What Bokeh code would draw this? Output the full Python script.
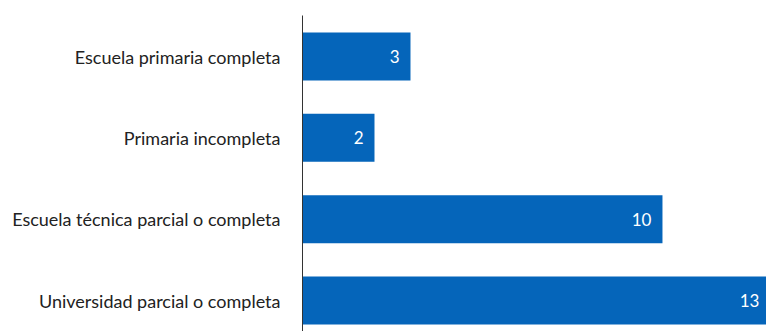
from bokeh.plotting import figure
from bokeh.models import ColumnDataSource, Range1d, FixedTicker, LabelSet
from bokeh.core.properties import value
from bokeh.embed import file_html
from bokeh.resources import INLINE

categories = ["Escuela primaria completa", "Primaria incompleta",
              "Escuela técnica parcial o completa", "Universidad parcial o completa"]
values = [3, 2, 10, 13]

n = len(categories)
ypos = [n - 1 - i for i in range(n)]
labels = [str(v) for v in values]

src = ColumnDataSource(dict(y=ypos, v=values, lab=labels))

p = figure(width=766, height=331, output_backend="svg", toolbar_location=None,
           x_range=Range1d(0, 12.89), y_range=Range1d(-0.38, n - 1 + 0.504),
           min_border_left=302, min_border_right=0, min_border_top=15, min_border_bottom=0)

p.hbar(y="y", right="v", left=0, height=0.59, source=src,
       fill_color="#0565BA", line_color=None)

lbl = LabelSet(x="v", y="y", text="lab", source=src, x_offset=-11,
               text_align="right", text_baseline="middle",
               text_color="white", text_font_size="17px", text_font=value("Lato"))
p.add_layout(lbl)

p.xaxis.visible = False
p.xgrid.visible = False
p.ygrid.visible = False
p.outline_line_color = None

p.yaxis.ticker = FixedTicker(ticks=ypos)
p.yaxis.major_label_overrides = {y: c for y, c in zip(ypos, categories)}
p.yaxis.major_tick_line_color = None
p.yaxis.minor_tick_line_color = None
p.yaxis.axis_line_color = "#333333"
p.yaxis.major_label_standoff = 16
p.yaxis.major_label_text_font = "Lato"
p.yaxis.major_label_text_font_size = "18px"
p.yaxis.major_label_text_color = "#222222"

open("out.html", "w").write(file_html(p, INLINE))
